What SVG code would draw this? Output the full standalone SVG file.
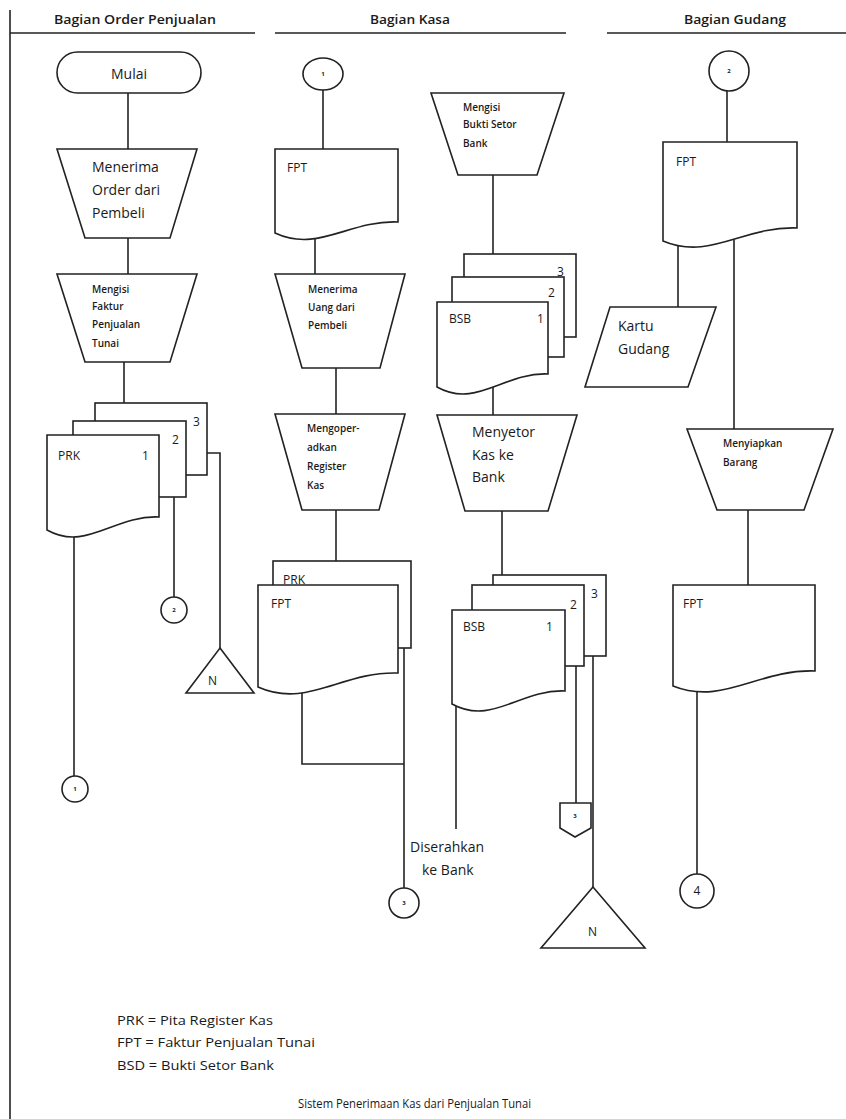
<svg xmlns="http://www.w3.org/2000/svg" width="846" height="1119" viewBox="0 0 846 1119">
<style>
.s{fill:#fff;stroke:#222;stroke-width:1.6}
.c{fill:none;stroke:#222;stroke-width:1.6}
.t{font-family:"Open Sans","Liberation Sans",sans-serif;fill:#1a1a1a}
.big{font-size:14px}
.md{font-size:12px}
.sm{font-size:10px;font-weight:600}
.tiny{font-size:6px;font-weight:bold;text-anchor:middle}
.hd{font-size:12px;font-weight:600}
.mid{text-anchor:middle}
</style>
<rect width="846" height="1119" fill="#fff"/>
<g id="frame">
<line class="c" x1="10" y1="10" x2="10" y2="1119"/>
<line class="c" x1="10" y1="33" x2="255" y2="33"/>
<line class="c" x1="275" y1="33" x2="566" y2="33" stroke-width="2"/>
<line class="c" x1="607" y1="33" x2="846" y2="33"/>
<text class="t hd" x="54" y="24" textLength="162" lengthAdjust="spacingAndGlyphs">Bagian Order Penjualan</text>
<text class="t hd" x="370" y="24" textLength="80" lengthAdjust="spacingAndGlyphs">Bagian Kasa</text>
<text class="t hd" x="684" y="24" textLength="102" lengthAdjust="spacingAndGlyphs">Bagian Gudang</text>
</g>
<g id="connectors">
<line class="c" x1="128" y1="93" x2="128" y2="149"/>
<line class="c" x1="128" y1="238" x2="128" y2="274"/>
<line class="c" x1="124" y1="362" x2="124" y2="403"/>
<line class="c" x1="74" y1="530" x2="74" y2="776"/>
<line class="c" x1="174" y1="497" x2="174" y2="597"/>
<polyline class="c" points="207,453 220,453 220,648"/>
<line class="c" x1="323" y1="90" x2="323" y2="149"/>
<line class="c" x1="315" y1="232" x2="315" y2="274"/>
<line class="c" x1="336" y1="368" x2="336" y2="414"/>
<line class="c" x1="336" y1="510" x2="336" y2="561"/>
<polyline class="c" points="302,690 302,764 404,764"/>
<line class="c" x1="404" y1="648" x2="404" y2="888"/>
<line class="c" x1="493" y1="175" x2="493" y2="254"/>
<line class="c" x1="493" y1="385" x2="493" y2="415"/>
<line class="c" x1="502" y1="511" x2="502" y2="575"/>
<line class="c" x1="456" y1="700" x2="456" y2="829"/>
<line class="c" x1="576" y1="666" x2="576" y2="803"/>
<line class="c" x1="593" y1="656" x2="593" y2="887"/>
<line class="c" x1="727" y1="91" x2="727" y2="142"/>
<line class="c" x1="678" y1="238" x2="678" y2="307"/>
<line class="c" x1="734" y1="232" x2="734" y2="429"/>
<line class="c" x1="748" y1="510" x2="748" y2="585"/>
<line class="c" x1="697" y1="688" x2="697" y2="874"/>
</g>
<g id="mulai">
<rect class="s" x="57" y="52" width="144" height="41" rx="20.5"/>
<text class="t big mid" x="129" y="79">Mulai</text>
</g>
<g id="menerima-order">
<polygon class="s" points="57,149 197,149 170,238 85,238"/>
<text class="t big" x="92" y="172">Menerima</text>
<text class="t big" x="92" y="195">Order dari</text>
<text class="t big" x="92" y="218">Pembeli</text>
</g>
<g id="mengisi-faktur">
<polygon class="s" points="57,274 197,274 170,362 85,362"/>
<text class="t sm" x="92" y="292.5">Mengisi</text>
<text class="t sm" x="92" y="309.5">Faktur</text>
<text class="t sm" x="92" y="327.5">Penjualan</text>
<text class="t sm" x="92" y="346.5">Tunai</text>
</g>
<g id="prk-stack">
<rect class="s" x="95" y="403" width="112" height="72"/>
<rect class="s" x="73" y="421" width="113" height="76"/>
<path class="s" d="M47,435 H159 V517 C114,515 86,552 47,530 Z"/>
<text class="t md" x="58" y="460">PRK</text>
<text class="t md" x="142" y="460">1</text>
<text class="t md" x="172" y="444">2</text>
<text class="t md" x="193" y="426">3</text>
</g>
<g id="conn-1a">
<circle class="s" cx="75" cy="789" r="13"/>
<text class="t tiny" x="75" y="791">1</text>
</g>
<g id="conn-2a">
<circle class="s" cx="174" cy="610" r="13"/>
<text class="t tiny" x="174" y="612">2</text>
</g>
<g id="arsip-1">
<polygon class="s" points="220,648 254,693 186,693"/>
<text class="t md" x="208" y="685">N</text>
</g>
<g id="conn-1b">
<ellipse class="s" cx="323" cy="74" rx="20" ry="16"/>
<text class="t tiny" x="323" y="76">1</text>
</g>
<g id="fpt-kas">
<path class="s" d="M275,149 H398 V222 C349,220 318,253 275,233 Z"/>
<text class="t md" x="287" y="172">FPT</text>
</g>
<g id="menerima-uang">
<polygon class="s" points="275,274 405,274 380,368 302,368"/>
<text class="t sm" x="308" y="292.5">Menerima</text>
<text class="t sm" x="308" y="310.5">Uang dari</text>
<text class="t sm" x="308" y="328.5">Pembeli</text>
</g>
<g id="mengoperasikan">
<polygon class="s" points="275,414 405,414 379,510 302,510"/>
<text class="t sm" x="307" y="431.5">Mengoper-</text>
<text class="t sm" x="307" y="450.5">adkan</text>
<text class="t sm" x="307" y="469.5">Register</text>
<text class="t sm" x="307" y="488.5">Kas</text>
</g>
<g id="prk-fpt-stack">
<rect class="s" x="273" y="561" width="138" height="87"/>
<path class="s" d="M258,585 H398 V673 C342,671 307,709 258,687 Z"/>
<text class="t md" x="283" y="584">PRK</text>
<text class="t md" x="271" y="608">FPT</text>
</g>
<g id="diserahkan">
<text class="t big" x="410" y="852">Diserahkan</text>
<text class="t big" x="422" y="875">ke Bank</text>
</g>
<g id="conn-3a">
<circle class="s" cx="404" cy="903" r="15"/>
<text class="t tiny" x="404" y="905">3</text>
</g>
<g id="mengisi-bsb">
<polygon class="s" points="431,93 564,93 537,175 458,175"/>
<text class="t sm" x="463" y="110.5">Mengisi</text>
<text class="t sm" x="463" y="127.5">Bukti Setor</text>
<text class="t sm" x="463" y="146.5">Bank</text>
</g>
<g id="bsb-stack-1">
<rect class="s" x="464" y="254" width="112" height="83"/>
<rect class="s" x="452" y="277" width="112" height="80"/>
<path class="s" d="M437,302 H548 V374 C504,372 476,409 437,387 Z"/>
<text class="t md" x="557" y="276">3</text>
<text class="t md" x="548" y="297">2</text>
<text class="t md" x="449" y="323">BSB</text>
<text class="t md" x="537" y="323">1</text>
</g>
<g id="menyetor">
<polygon class="s" points="437,415 577,415 548,511 465,511"/>
<text class="t big" x="472" y="437">Menyetor</text>
<text class="t big" x="472" y="460">Kas ke</text>
<text class="t big" x="472" y="482">Bank</text>
</g>
<g id="bsb-stack-2">
<rect class="s" x="493" y="575" width="113" height="81"/>
<rect class="s" x="472" y="585" width="112" height="81"/>
<path class="s" d="M452,610 H565 V691 C520,689 492,726 452,704 Z"/>
<text class="t md" x="591" y="598">3</text>
<text class="t md" x="570" y="609">2</text>
<text class="t md" x="463" y="631">BSB</text>
<text class="t md" x="546" y="631">1</text>
</g>
<g id="offpage-3">
<polygon class="s" points="560,803 591,803 591,828 575,837 560,828"/>
<text class="t tiny" x="575" y="818">3</text>
</g>
<g id="arsip-2">
<polygon class="s" points="593,887 645,948 541,948"/>
<text class="t md" x="588" y="936">N</text>
</g>
<g id="conn-2b">
<circle class="s" cx="729" cy="71" r="20"/>
<text class="t tiny" x="729" y="73">2</text>
</g>
<g id="fpt-gudang">
<path class="s" d="M663,142 H797 V228 C743,226 710,261 663,241 Z"/>
<text class="t md" x="676" y="166">FPT</text>
</g>
<g id="kartu-gudang">
<polygon class="s" points="610,307 716,307 688,387 585,387"/>
<text class="t big" x="618" y="331">Kartu</text>
<text class="t big" x="618" y="354">Gudang</text>
</g>
<g id="menyiapkan">
<polygon class="s" points="687,429 833,429 804,510 717,510"/>
<text class="t sm" x="723" y="446.5">Menyiapkan</text>
<text class="t sm" x="723" y="465.5">Barang</text>
</g>
<g id="fpt-gudang-2">
<path class="s" d="M673,585 H815 V671 C758,669 723,706 673,686 Z"/>
<text class="t md" x="683" y="608">FPT</text>
</g>
<g id="conn-4">
<circle class="s" cx="697" cy="891" r="17"/>
<text class="t md mid" x="697" y="895">4</text>
</g>
<g id="legend">
<text class="t md" x="117" y="1025" textLength="156" lengthAdjust="spacingAndGlyphs">PRK = Pita Register Kas</text>
<text class="t md" x="117" y="1047" textLength="198" lengthAdjust="spacingAndGlyphs">FPT = Faktur Penjualan Tunai</text>
<text class="t md" x="117" y="1070" textLength="157" lengthAdjust="spacingAndGlyphs">BSD = Bukti Setor Bank</text>
<text class="t md" x="298" y="1108" textLength="233" lengthAdjust="spacingAndGlyphs" style="font-size:13px">Sistem Penerimaan Kas dari Penjualan Tunai</text>
</g>
</svg>
